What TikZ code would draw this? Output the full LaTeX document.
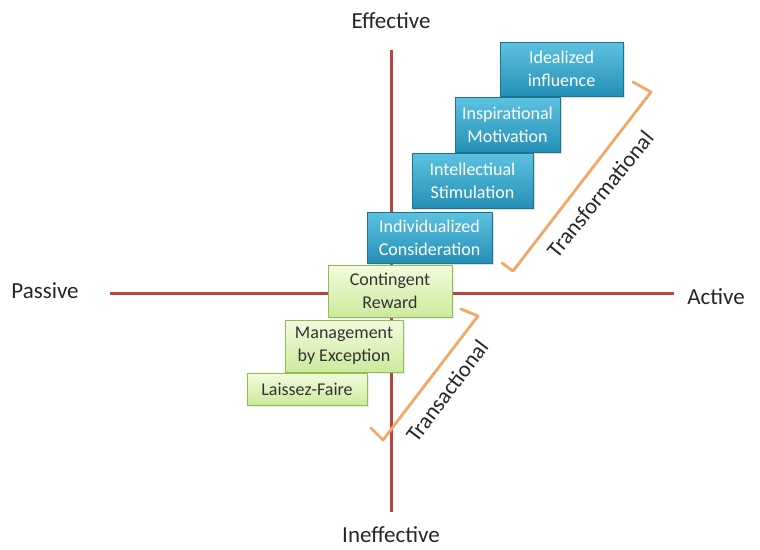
\documentclass[tikz,border=0pt]{standalone}
\usepackage{fontspec}
\setmainfont{Carlito}
\usetikzlibrary{shadows}

\definecolor{axisred}{HTML}{B5473F}
\definecolor{brackorange}{HTML}{F2A764}
\definecolor{bluetop}{HTML}{5CC2E0}
\definecolor{bluebot}{HTML}{2590B6}
\definecolor{greentop}{HTML}{F3FBDE}
\definecolor{greenbot}{HTML}{CBEA9C}

\tikzset{
	axis/.style={axisred, line width=3pt},
	bracket/.style={brackorange, line width=2.8pt, line join=round, line cap=round},
	axislabel/.style={font=\fontsize{23}{26}\selectfont, text=black!85},
	transfbox/.style={draw=bluebot!80!black, top color=bluetop, bottom color=bluebot,
		text=white, align=center, inner sep=0pt, font=\fontsize{18}{23}\selectfont,
		drop shadow={opacity=0.25, shadow xshift=2pt, shadow yshift=-2pt}},
	transabox/.style={draw=green!30!olive!70, top color=greentop, bottom color=greenbot,
		text=black!80, align=center, inner sep=0pt, font=\fontsize{18}{23}\selectfont,
		drop shadow={opacity=0.15, shadow xshift=2pt, shadow yshift=-2pt}},
	bracketlabel/.style={font=\fontsize{22.5}{26}\selectfont, text=black!85}
}

\begin{document}
\begin{tikzpicture}[x=1pt, y=-1pt]
		\useasboundingbox (0,0) rectangle (760,549);

		% axes
		\coordinate (top) at (391,50);
		\coordinate (bottom) at (391,512);
		\coordinate (left) at (110,293);
		\coordinate (right) at (674,293);
		\draw[axis] (top) -- (bottom);
		\draw[axis] (left) -- (right);

		\node[axislabel] (effective) at (391,21) {Effective};
		\node[axislabel] (ineffective) at (391,535) {Ineffective};
		\node[axislabel] (passive) at (45,291) {Passive};
		\node[axislabel] (active) at (716,297) {Active};

		% transformational styles
		\node[transfbox, minimum width=123pt, minimum height=54pt] (idealized) at (561.5,69) {Idealized\\influence};
		\node[transfbox, minimum width=105pt, minimum height=55pt] (inspirational) at (507.5,124.5) {Inspirational\\Motivation};
		\node[transfbox, minimum width=121pt, minimum height=55pt] (intellectual) at (472.5,180.5) {Intellectiual\\Stimulation};
		\node[transfbox, minimum width=125pt, minimum height=51pt] (individualized) at (429.5,237.5) {Individualized\\Consideration};

		% transactional styles
		\node[transabox, minimum width=124pt, minimum height=52pt] (contingent) at (390,291) {Contingent\\Reward};
		\node[transabox, minimum width=118pt, minimum height=52pt] (management) at (344,346) {Management\\by Exception};
		\node[transabox, minimum width=120pt, minimum height=32pt] (laissez) at (307,389) {Laissez-Faire};

		% brackets
		\draw[bracket] (633,82) -- (651,92) -- (513,271) -- (502,263);
		\draw[bracket] (461,309) -- (478,316) -- (383,440) -- (371,428);

		\node[bracketlabel, rotate=51] (transformational) at (600,194) {Transformational};
		\node[bracketlabel, rotate=53] (transactional) at (447,391) {Transactional};
	\end{tikzpicture}
\end{document}
